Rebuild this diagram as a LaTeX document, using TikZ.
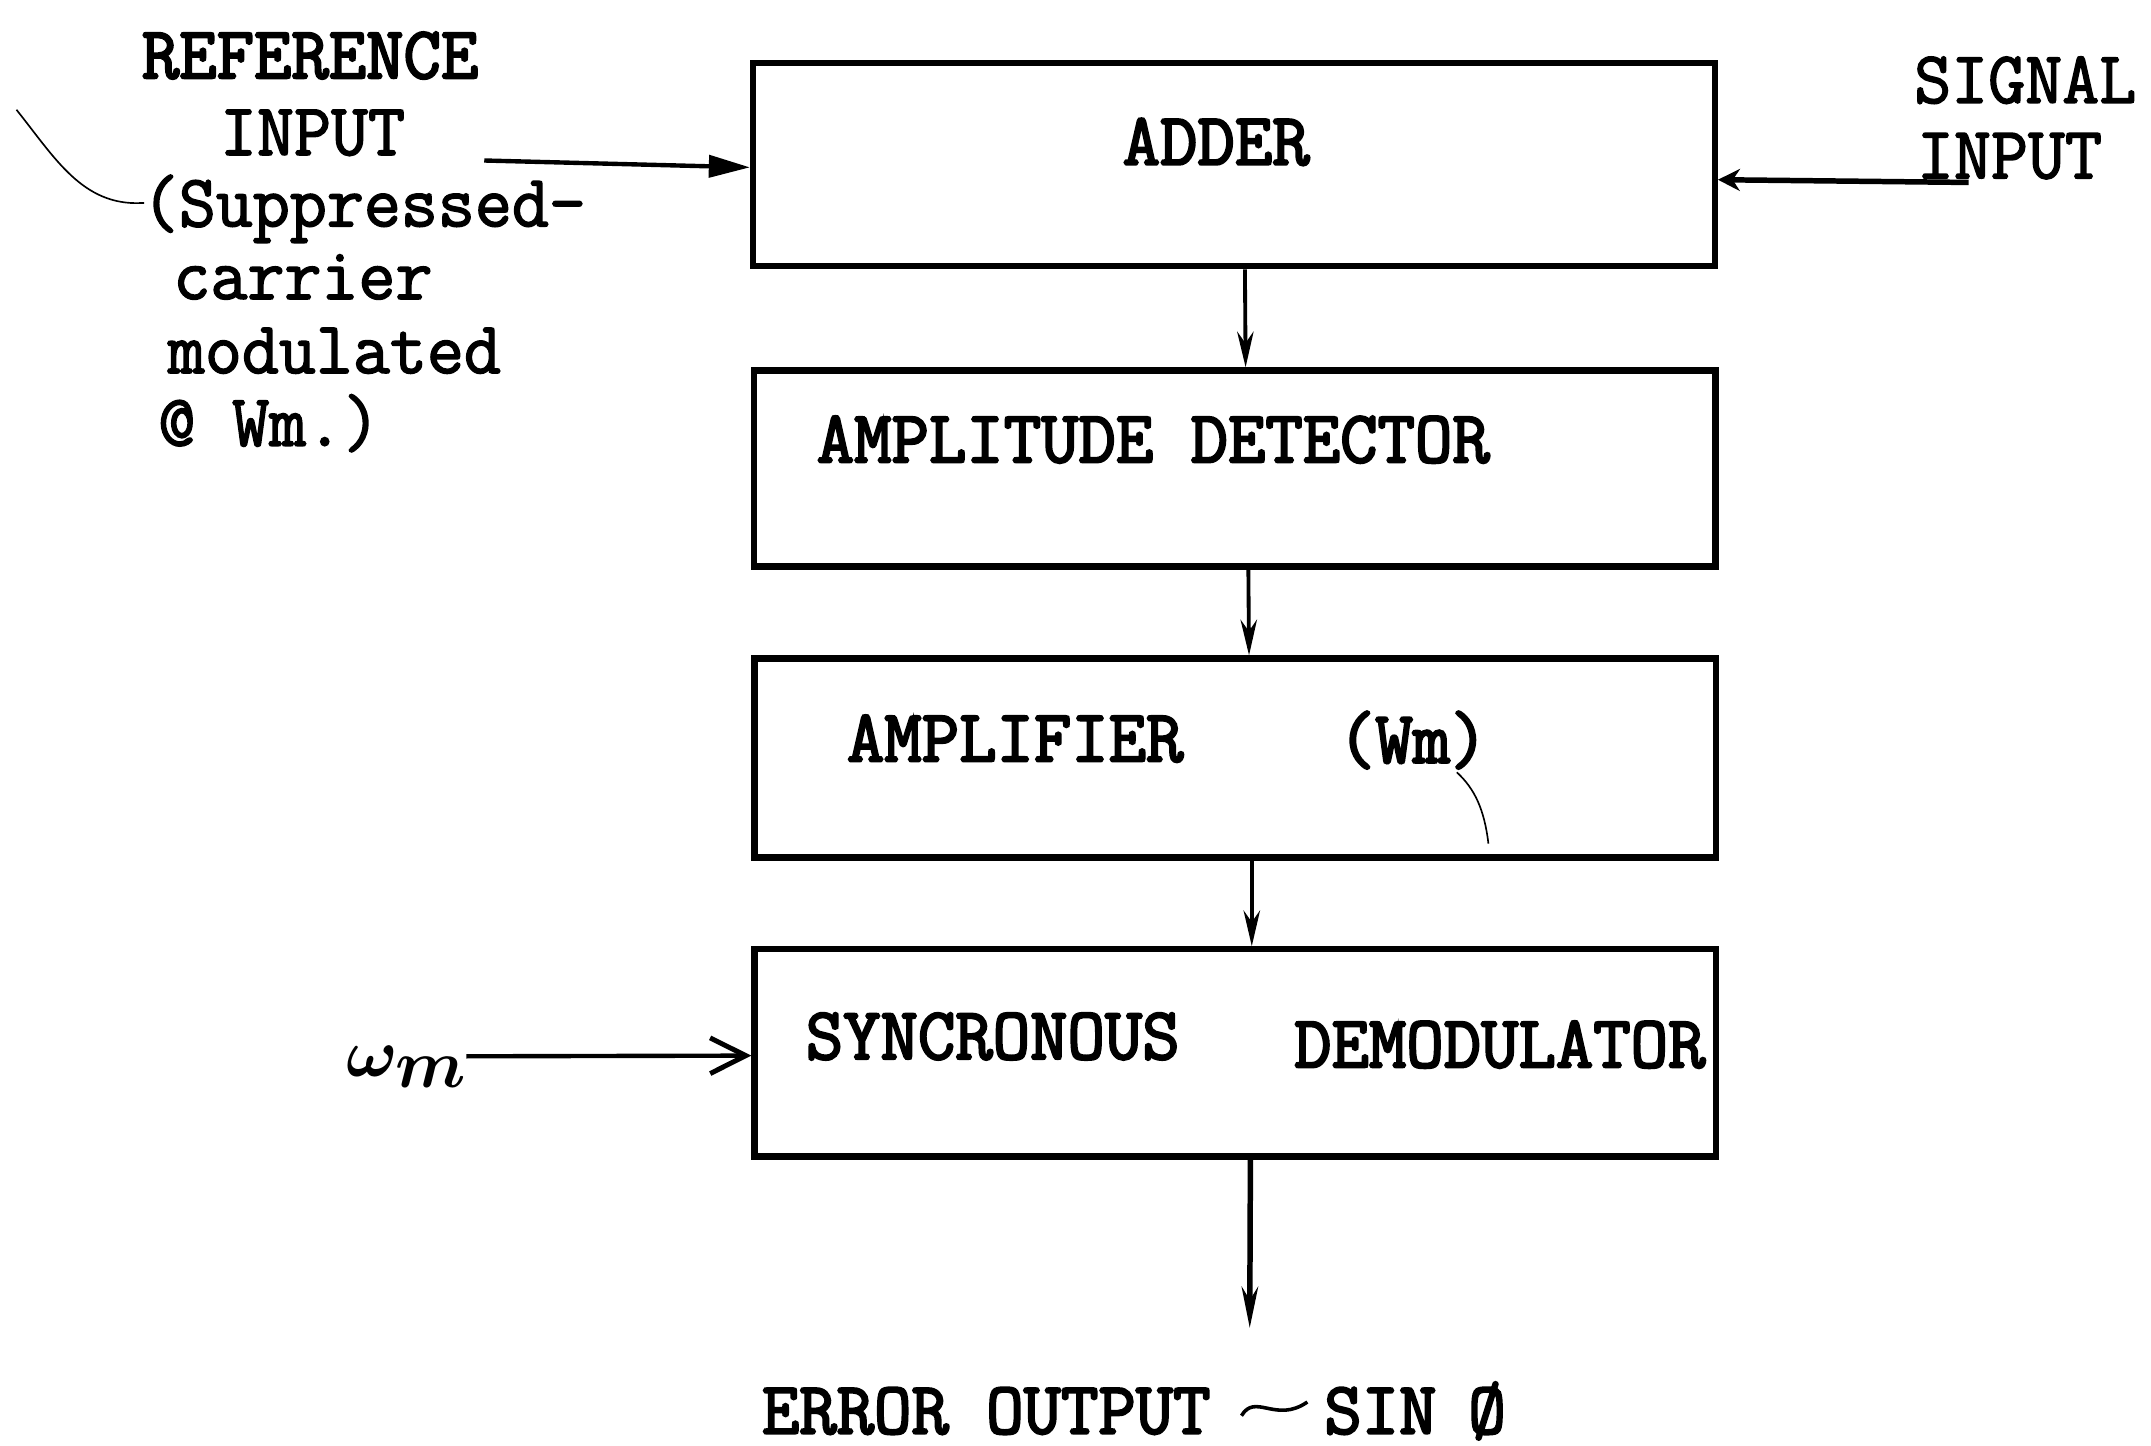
\documentclass[tikz,border=0pt]{standalone}
\usepackage{fontspec}
\usetikzlibrary{arrows.meta}
\newfontfamily\tw[FakeStretch=0.97,FakeBold=2]{Latin Modern Mono}
\newfontfamily\twb[FakeStretch=0.98,FakeBold=3]{Latin Modern Mono}
\begin{document}
\begin{tikzpicture}[x=0.5pt,y=-0.5pt,
  blk/.style={draw, line width=2.3pt, minimum width=350.5pt, inner sep=0pt},
  lbl/.style={anchor=base west, inner sep=0pt, font=\fontsize{27}{27}\twb},
  txt/.style={anchor=base west, inner sep=0pt, font=\fontsize{27}{27}\tw},
  vflow/.style={line width=1.4pt, -{Stealth[length=13pt,width=6pt]}},
  note/.style={line width=0.6pt}]
\useasboundingbox (0,0) rectangle (1568,1054);
% blocks
\node[blk, minimum height=74pt] (adder) at (899.5,120) {};
\node[blk, minimum height=71.5pt] (ad) at (900,341.5) {};
\node[blk, minimum height=72.5pt] (amp) at (900.5,552.5) {};
\node[blk, minimum height=75.5pt] (sd) at (900.5,767.5) {};
% block labels
\node[lbl] (tadder) at (818,120) {ADDER};
\node[lbl] (tad) at (595,337) {AMPLITUDE DETECTOR};
\node[lbl] (tamp) at (617,555) {AMPLIFIER};
\node[lbl] (twm) at (975,556) {(Wm)};
\node[lbl] (tsyn) at (587,772) {SYNCRONOUS};
\node[lbl] (tdem) at (943,778) {DEMODULATOR};
% left text
\node[lbl] (r1) at (103,57) {REFERENCE};
\node[txt] (r2) at (160,113) {INPUT};
\node[txt] (r3) at (103,165) {(Suppressed-};
\node[txt] (r4) at (126,218) {carrier};
\node[txt] (r5) at (122,272) {modulated};
\node[txt] (r6) at (115,325) {@ Wm.)};
% right text
\node[txt] (s1) at (1395,75) {SIGNAL};
\node[txt] (s2) at (1397,130) {INPUT};
% omega
\node[anchor=base west, inner sep=0pt, font=\fontsize{37}{37}\selectfont\boldmath] (om) at (252,785) {$\omega_{m}$};
% output text
\node[lbl] (eo) at (555,1045) {ERROR OUTPUT};
\node[lbl] (sin) at (965,1045) {SIN};
\node[lbl] (phi) at (1070,1045) {Ø};
% coordinates
\coordinate (refin) at (353,117);
\coordinate (sigin) at (1435,133);
\coordinate (wmin) at (340,770);
\coordinate (out) at (911,968);
% connectors
\draw[line width=1.6pt, -{Triangle[length=15pt,width=8pt]}] (refin) -- ([yshift=-1pt]adder.west);
\draw[line width=2pt, -{Stealth[length=8pt,width=8pt]}] (sigin) -- ([yshift=-5.5pt]adder.east);
\draw[vflow] ([xshift=4pt]adder.south) -- ([xshift=4pt]ad.north);
\draw[vflow] ([xshift=5pt]ad.south) -- ([xshift=5pt]amp.north);
\draw[vflow] ([xshift=6pt]amp.south) -- ([xshift=6pt]sd.north);
\draw[line width=1.6pt, -{Straight Barb[length=13pt,width=13pt,line width=1.8pt]}] (wmin) -- ([yshift=-1pt]sd.west);
\draw[line width=2pt, -{Stealth[length=15pt,width=6pt]}] ([xshift=5.5pt]sd.south) -- (out);
% hand-drawn annotations
\draw[note] (12,80) .. controls (40,115) and (60,150) .. (r3.west |- 0,148) -- (105,148);
\draw[note] (1062,563) .. controls (1075,575) and (1082,590) .. (1085,615);
\draw[line width=1.3pt] (905,1032) .. controls (915,1015) and (930,1038) .. (953,1022);
\end{tikzpicture}
\end{document}
